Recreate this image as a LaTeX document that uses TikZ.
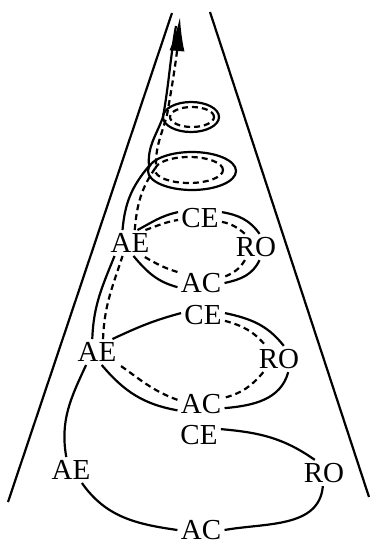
\documentclass[tikz,border=0pt]{standalone}
\usepackage{fontspec}
\setmainfont{Liberation Serif}
\usepackage{tikz}
\usetikzlibrary{arrows.meta}

\begin{document}
\begin{tikzpicture}[x=0.5pt,y=0.5pt,
  every node/.style={font=\fontsize{14.5}{17}\selectfont,inner sep=1.5pt},
  loopline/.style={line width=1.1pt},
  innerline/.style={line width=1.1pt,dash pattern=on 3pt off 2pt}]
\useasboundingbox (0,0) rectangle (370,543);
\draw[loopline] (8,41) -- (172,530);
\draw[loopline] (369,46) -- (210,531);
\node (ce1) at (199,108) {CE};
\node (ro1) at (324,70) {RO};
\node (ac1) at (201,13) {AC};
\node (ae1) at (71,73) {AE};
\node (ce2) at (203,228) {CE};
\node (ro2) at (279,184) {RO};
\node (ac2) at (201,139) {AC};
\node (ae2) at (97,191) {AE};
\node (ce3) at (200,325) {CE};
\node (ro3) at (256,296) {RO};
\node (ac3) at (201,260) {AC};
\node (ae3) at (130,300) {AE};
\coordinate (bsol) at (192,372);
\coordinate (bdash) at (189,373);
\coordinate (asol) at (191,426);
\coordinate (adash) at (192,426);
\coordinate (bl) at (149,377);
\coordinate (al) at (163,426);
\coordinate (bdl) at (156,376);
\coordinate (adl) at (167,428);
\coordinate (soltop) at (176,517);
\coordinate (tip) at (180,526);
\draw[loopline] (ce1.15) to[out=-5,in=145] (ro1.125);
\draw[loopline] (ro1.-95) to[out=-95,in=10] (ac1.east);
\draw[loopline] (ac1.west) to[out=172,in=-55] (ae1.-50);
\draw[loopline] (ae1.110) to[out=100,in=-115] (ae2.-130);
\draw[loopline] (ae2.40) to[out=25,in=195] (ce2.175);
\draw[loopline] (ce2.5) to[out=-12,in=128] (ro2.70);
\draw[innerline] (ce2.-15) to[out=-15,in=130] (ro2.135);
\draw[loopline] (ro2.-55) to[out=-105,in=5] (ac2.-10);
\draw[innerline] (ro2.-140) to[out=-130,in=15] (ac2.15);
\draw[loopline] (ac2.-165) to[out=170,in=-50] (ae2.-70);
\draw[innerline] (ac2.170) to[out=160,in=-35] (ae2.-30);
\draw[loopline] (ae2.110) to[out=88,in=-112] (ae3.-140);
\draw[innerline] (ae2.65) to[out=88,in=-108] (ae3.-120);
\draw[loopline] (ae3.60) to[out=28,in=192] (ce3.165);
\draw[innerline] (ae3.40) to[out=20,in=190] (ce3.-175);
\draw[loopline] (ce3.15) to[out=-10,in=125] (ro3.75);
\draw[innerline] (ce3.-10) to[out=-12,in=140] (ro3.130);
\draw[loopline] (ro3.-75) to[out=-115,in=12] (ac3.east);
\draw[innerline] (ro3.-130) to[out=-122,in=22] (ac3.15);
\draw[loopline] (ac3.-170) to[out=165,in=-50] (ae3.-75);
\draw[innerline] (ac3.155) to[out=163,in=-30] (ae3.-45);
\draw[loopline] (bsol) ellipse [x radius=44,y radius=19];
\draw[innerline] (bdash) ellipse [x radius=34,y radius=13];
\draw[loopline] (asol) ellipse [x radius=28,y radius=15];
\draw[innerline] (adash) ellipse [x radius=22,y radius=10];
\draw[loopline] (ae3.120) to[out=85,in=-130] (bl) to[out=95,in=-110] (al) to[out=80,in=-100] (soltop);
\draw[innerline,-{Latex[length=17pt,width=7.5pt]}] (ae3.70) to[out=85,in=-125] (bdl) to[out=92,in=-105] (adl) to[out=80,in=-95] (tip);
\end{tikzpicture}
\end{document}
